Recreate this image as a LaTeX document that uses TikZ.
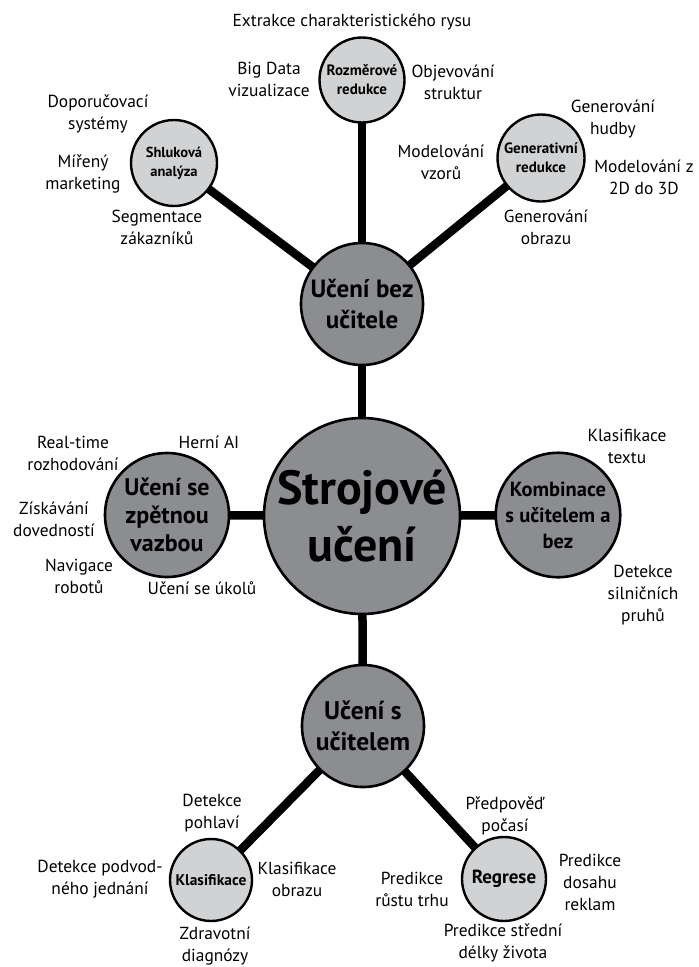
\documentclass[tikz,border=0pt]{standalone}
\usepackage{fontspec}
\setmainfont{PT Sans}
\usetikzlibrary{backgrounds}
\definecolor{darkfill}{HTML}{8C8D91}
\definecolor{lightfill}{HTML}{D1D2D4}
\tikzset{
  hub/.style={circle, draw=black, line width=2.6pt, fill=darkfill, inner sep=0pt, align=center, font=\bfseries},
  leaf/.style={circle, draw=black, line width=2.4pt, fill=lightfill, inner sep=0pt, align=center, font=\bfseries},
  lbl/.style={align=center, inner sep=0pt, font=\fontsize{17.4}{22}\selectfont},
  conn/.style={line width=8.5pt, black}
}
\begin{document}
\begin{tikzpicture}[x=1pt, y=-1pt]
\useasboundingbox (0,0) rectangle (699,967);
% nodes
\node[hub, minimum size=196pt, font=\bfseries\fontsize{48}{57}\selectfont] (main) at (362,516) {Strojové\\učení};
\node[hub, minimum size=122pt, font=\bfseries\fontsize{25}{31}\selectfont] (bez) at (362,304) {Učení bez\\učitele};
\node[hub, minimum size=124pt, font=\bfseries\fontsize{24}{28}\selectfont] (zpet) at (167,515) {Učení se\\zpětnou\\vazbou};
\node[hub, minimum size=124pt, font=\bfseries\fontsize{20.5}{26}\selectfont] (komb) at (558,515) {Kombinace\\s učitelem a\\bez};
\node[hub, minimum size=122pt, font=\bfseries\fontsize{25.5}{31}\selectfont] (suc) at (363,726) {Učení s\\učitelem};
\node[leaf, minimum size=86pt, font=\bfseries\fontsize{14.5}{19}\selectfont] (shluk) at (174,163) {Shluková\\analýza};
\node[leaf, minimum size=85pt, font=\bfseries\fontsize{15}{19}\selectfont] (rozm) at (362,80) {Rozměrové\\redukce};
\node[leaf, minimum size=87pt, font=\bfseries\fontsize{15}{19}\selectfont] (gen) at (541,158) {Generativní\\redukce};
\node[leaf, minimum size=82pt, font=\bfseries\fontsize{15.5}{18}\selectfont] (klas) at (211,880) {Klasifikace};
\node[leaf, minimum size=84pt, font=\bfseries\fontsize{19}{22}\selectfont] (regr) at (504,879) {Regrese};
% connectors
\begin{scope}[on background layer]
\draw[conn] (main.center) -- (bez.center);
\draw[conn] (main.center) -- (zpet.center);
\draw[conn] (main.center) -- (komb.center);
\draw[conn] (main.center) -- (suc.center);
\draw[conn] (bez.center) -- (shluk.center);
\draw[conn] (bez.center) -- (rozm.center);
\draw[conn] (bez.center) -- (gen.center);
\draw[conn] (suc.center) -- (klas.center);
\draw[conn] (suc.center) -- (regr.center);
\end{scope}
% labels
\node[lbl] (l1) at (352,22) {Extrakce charakteristického rysu};
\node[lbl] (l2) at (269,79) {Big Data\\vizualizace};
\node[lbl] (l3) at (453,82) {Objevování\\struktur};
\node[lbl] (l4) at (98,114) {Doporučovací\\systémy};
\node[lbl] (l5) at (83,174) {Mířený\\marketing};
\node[lbl] (l6) at (157,227) {Segmentace\\zákazníků};
\node[lbl] (l7) at (613,119) {Generování\\hudby};
\node[lbl] (l8) at (441,162) {Modelování\\vzorů};
\node[lbl] (l9) at (644,177) {Modelování z\\2D do 3D};
\node[lbl] (l10) at (546,227) {Generování\\obrazu};
\node[lbl] (l11) at (73,453) {Real-time\\rozhodování};
\node[lbl] (l12) at (209,442) {Herní AI};
\node[lbl] (l13) at (54,519) {Získávání\\dovedností};
\node[lbl] (l14) at (79,576) {Navigace\\robotů};
\node[lbl] (l15) at (202,588) {Učení se úkolů};
\node[lbl] (l16) at (627,446) {Klasifikace\\textu};
\node[lbl] (l17) at (643,595) {Detekce\\silničních\\pruhů};
\node[lbl] (l18) at (212,813) {Detekce\\pohlaví};
\node[lbl] (l19) at (100,879) {Detekce podvod-\\ného jednání};
\node[lbl] (l20) at (297,879) {Klasifikace\\obrazu};
\node[lbl] (l21) at (215,946) {Zdravotní\\diagnózy};
\node[lbl] (l22) at (505,816) {Předpověď\\počasí};
\node[lbl] (l23) at (412,889) {Predikce\\růstu trhu};
\node[lbl] (l24) at (590,882) {Predikce\\dosahu\\reklam};
\node[lbl] (l25) at (503,943) {Predikce střední\\délky života};
\end{tikzpicture}
\end{document}
